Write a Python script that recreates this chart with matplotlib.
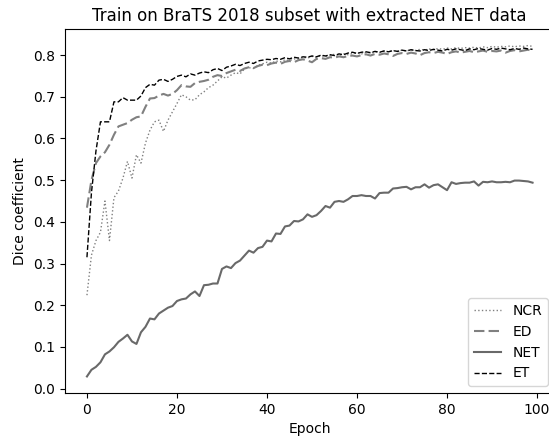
import numpy as np
import matplotlib
matplotlib.use("Agg")
import matplotlib.pyplot as plt

# ── Dice per epoch ────────────────────────────────────────
epochs = np.arange(100)

ncr = [0.224, 0.320, 0.355, 0.375, 0.450, 0.355, 0.458, 0.474, 0.505, 0.545,
       0.505, 0.561, 0.541, 0.589, 0.620, 0.640, 0.644, 0.617, 0.644, 0.664,
       0.684, 0.705, 0.700, 0.692, 0.693, 0.705, 0.712, 0.722, 0.728, 0.738,
       0.748, 0.745, 0.752, 0.758, 0.755, 0.767, 0.770, 0.768, 0.776, 0.779,
       0.783, 0.781, 0.786, 0.784, 0.789, 0.787, 0.791, 0.790, 0.795, 0.793,
       0.797, 0.795, 0.799, 0.797, 0.800, 0.802, 0.799, 0.803, 0.801, 0.804,
       0.806, 0.803, 0.807, 0.805, 0.808, 0.806, 0.810, 0.808, 0.811, 0.809,
       0.812, 0.810, 0.813, 0.811, 0.814, 0.812, 0.815, 0.813, 0.816, 0.814,
       0.817, 0.815, 0.818, 0.816, 0.818, 0.817, 0.819, 0.817, 0.820, 0.818,
       0.821, 0.819, 0.821, 0.820, 0.822, 0.820, 0.822, 0.821, 0.823, 0.821]

ed = [0.434, 0.500, 0.541, 0.557, 0.567, 0.585, 0.609, 0.629, 0.633, 0.637,
      0.645, 0.651, 0.653, 0.676, 0.696, 0.697, 0.703, 0.707, 0.703, 0.707,
      0.716, 0.728, 0.725, 0.724, 0.733, 0.736, 0.738, 0.741, 0.748, 0.752,
      0.750, 0.757, 0.761, 0.765, 0.762, 0.768, 0.771, 0.769, 0.774, 0.777,
      0.776, 0.780, 0.782, 0.779, 0.784, 0.786, 0.783, 0.788, 0.790, 0.787,
      0.783, 0.791, 0.793, 0.791, 0.795, 0.794, 0.797, 0.795, 0.798, 0.799,
      0.797, 0.800, 0.802, 0.799, 0.803, 0.801, 0.804, 0.802, 0.798, 0.803,
      0.805, 0.803, 0.806, 0.804, 0.800, 0.805, 0.807, 0.805, 0.808, 0.806,
      0.803, 0.807, 0.809, 0.806, 0.808, 0.810, 0.807, 0.809, 0.811, 0.808,
      0.810, 0.809, 0.811, 0.806, 0.810, 0.812, 0.809, 0.811, 0.813, 0.810]

net = [0.029, 0.045, 0.052, 0.063, 0.082, 0.089, 0.099, 0.112, 0.120, 0.129,
       0.113, 0.107, 0.135, 0.148, 0.168, 0.166, 0.180, 0.187, 0.194, 0.198,
       0.210, 0.214, 0.216, 0.226, 0.233, 0.222, 0.248, 0.249, 0.252, 0.252,
       0.287, 0.293, 0.289, 0.301, 0.307, 0.319, 0.331, 0.326, 0.337, 0.340,
       0.355, 0.353, 0.372, 0.371, 0.389, 0.391, 0.402, 0.401, 0.406, 0.418,
       0.412, 0.416, 0.426, 0.438, 0.434, 0.448, 0.450, 0.448, 0.454, 0.462,
       0.462, 0.464, 0.462, 0.462, 0.456, 0.469, 0.470, 0.470, 0.480, 0.481,
       0.483, 0.484, 0.478, 0.483, 0.483, 0.490, 0.482, 0.488, 0.490, 0.483,
       0.476, 0.495, 0.491, 0.493, 0.494, 0.494, 0.497, 0.487, 0.496, 0.495,
       0.497, 0.495, 0.495, 0.496, 0.495, 0.499, 0.499, 0.498, 0.497, 0.494]

et = [0.315, 0.470, 0.570, 0.640, 0.640, 0.640, 0.688, 0.688, 0.698, 0.692,
      0.692, 0.692, 0.702, 0.722, 0.730, 0.728, 0.740, 0.742, 0.737, 0.742,
      0.749, 0.752, 0.748, 0.755, 0.752, 0.757, 0.760, 0.758, 0.765, 0.768,
      0.763, 0.771, 0.774, 0.778, 0.775, 0.780, 0.783, 0.780, 0.786, 0.788,
      0.790, 0.789, 0.792, 0.790, 0.794, 0.791, 0.795, 0.793, 0.796, 0.795,
      0.798, 0.796, 0.800, 0.798, 0.801, 0.799, 0.803, 0.801, 0.805, 0.807,
      0.804, 0.807, 0.808, 0.806, 0.809, 0.807, 0.810, 0.808, 0.811, 0.809,
      0.812, 0.810, 0.813, 0.811, 0.810, 0.813, 0.811, 0.814, 0.812, 0.810,
      0.814, 0.812, 0.815, 0.813, 0.811, 0.815, 0.813, 0.816, 0.814, 0.812,
      0.816, 0.814, 0.817, 0.815, 0.813, 0.816, 0.814, 0.817, 0.815, 0.814]

# ── Gráfico ───────────────────────────────────────────────
fig = plt.figure(figsize=(5.49, 4.37), dpi=100)
ax = fig.add_axes([0.1178, 0.1007, 0.8928, 0.8329])

ax.plot(epochs, ncr, ':', color='gray', lw=1.0, label='NCR')
ax.plot(epochs, ed, color='gray', lw=1.5, linestyle=(0, (5, 2)), label='ED')
ax.plot(epochs, net, '-', color='dimgray', lw=1.5, label='NET')
ax.plot(epochs, et, '--', color='black', lw=1.0, label='ET')

ax.set_title('Train on BraTS 2018 subset with extracted NET data')
ax.set_xlabel('Epoch'); ax.set_ylabel('Dice coefficient')
ax.legend(loc='lower right')
fig.savefig('out.png', dpi=100)
